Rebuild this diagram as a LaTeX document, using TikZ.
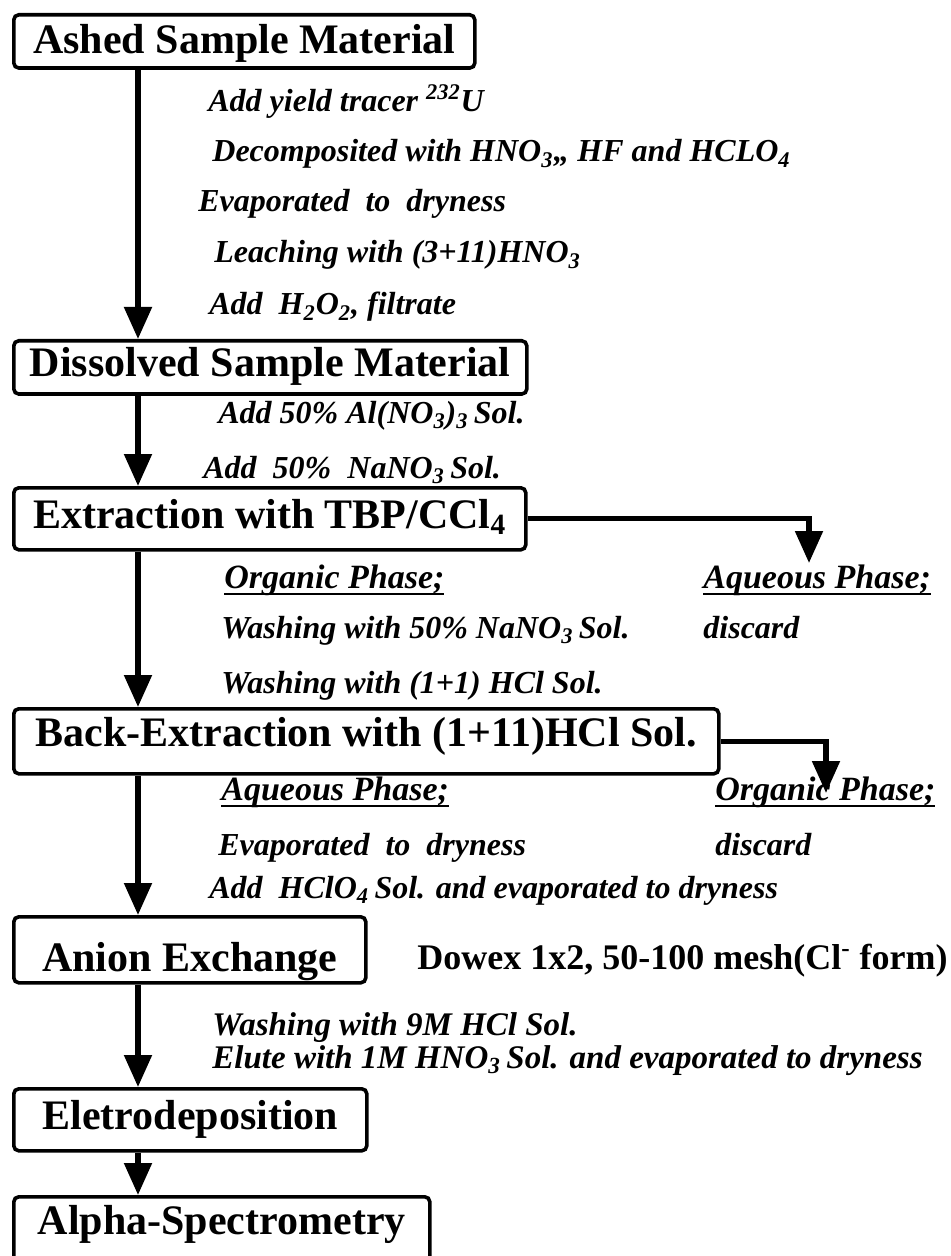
\documentclass[tikz,border=0pt]{standalone}
\usepackage{fontspec}
\setmainfont{Liberation Serif}
\usepackage{tikz}
\usetikzlibrary{arrows.meta}
\newsavebox{\phasebox}
\newcommand{\phaseline}[1]{\sbox{\phasebox}{#1}\rlap{\rule[-3.5pt]{\wd\phasebox}{1pt}}\usebox{\phasebox}}

\begin{document}
\begin{tikzpicture}[
	x=0.5pt, y=-0.5pt,
	box/.style={
		draw, line width=1.8pt, rounded corners=2.5pt, anchor=north west,
		font=\fontsize{21}{25}\selectfont\bfseries,
		text height=14.7pt, text depth=5.25pt
	},
	note/.style={
		anchor=base west, inner sep=0pt,
		font=\fontsize{16}{19}\selectfont\bfseries\itshape
	},
	phase/.style={
		note, font=\fontsize{17}{20}\selectfont\bfseries\itshape
	},
	resin/.style={
		anchor=base east, inner sep=0pt,
		font=\fontsize{18}{21}\selectfont\bfseries
	},
	flow/.style={
		line width=2.6pt, -{Triangle[width=13.5pt,length=16pt]}
	}
]
\useasboundingbox (0,0) rectangle (951,1256);
\clip (0,0) rectangle (951,1256);

% process steps
\node[box, minimum width=230.5pt, minimum height=26pt] (asm) at (12,13) {\raisebox{-1.5pt}{Ashed Sample Material}};
\node[box, minimum width=256.5pt, minimum height=24.5pt] (dsm) at (12,339) {Dissolved Sample Material};
\node[box, minimum width=256pt, minimum height=31pt] (ext) at (12,486) {Extraction with TBP/CCl\textsubscript{4}};
\node[box, minimum width=352.5pt, minimum height=32.5pt] (bext) at (12,707) {\raisebox{2pt}{Back-Extraction with (1+11)HCl Sol.}};
\node[box, minimum width=176pt, minimum height=33pt] (anex) at (12,915) {\raisebox{-6pt}{Anion Exchange}};
\node[box, minimum width=176.5pt, minimum height=31pt] (elec) at (12,1087) {Eletrodeposition};
\node[box, minimum width=208pt, minimum height=40pt, text depth=16.7pt] (alpha) at (12,1195) {Alpha-Spectrometry};

% treatment notes
\node[note] (tracer) at (208,112) {Add yield tracer \textsuperscript{232}U};
\node[note] (decomp) at (212,162) {Decomposited with HNO\textsubscript{3},, HF and HCLO\textsubscript{4}};
\node[note] (evap1) at (198,212) {Evaporated\ \ to\ \ dryness};
\node[note] (leach) at (214,263) {Leaching with (3+11)HNO\textsubscript{3}};
\node[note] (filt) at (209,315) {Add\ \ H\textsubscript{2}O\textsubscript{2}, filtrate};
\node[note] (alno) at (218,423) {Add 50\% Al(NO\textsubscript{3})\textsubscript{3}\,Sol.};
\node[note] (nano) at (203,478) {Add\ \ 50\%\ \ NaNO\textsubscript{3}\,Sol.};
\node[phase] (org1) at (224,588) {\phaseline{Organic Phase;}};
\node[phase] (aq1) at (703,588) {\phaseline{Aqueous Phase;}};
\node[note] (wash1) at (221,638) {Washing with 50\% NaNO\textsubscript{3}\,Sol.};
\node[note] (disc1) at (703,638) {discard};
\node[note] (wash2) at (221,693) {Washing with (1+1) HCl Sol.};
\node[phase] (aq2) at (221,800) {\phaseline{Aqueous Phase;}};
\node[phase] (org2) at (715,800) {\phaseline{Organic Phase;}};
\node[note] (evap2) at (218,855) {Evaporated\ \ to\ \ dryness};
\node[note] (disc2) at (715,855) {discard};
\node[note] (hclo) at (209,898) {Add\ \ HClO\textsubscript{4}\,Sol. and evaporated to dryness};
\node[resin] (dowex) at (948,969) {Dowex 1x2, 50-100 mesh(Cl\textsuperscript{-} form)};
\node[note, font=\fontsize{16.5}{19}\selectfont\bfseries\itshape] (wash3) at (212,1035) {Washing with 9M HCl Sol.};
\node[note, font=\fontsize{16.5}{19}\selectfont\bfseries\itshape] (elute) at (212,1068) {Elute with 1M HNO\textsubscript{3}\,Sol. and evaporated to dryness};

% connectors
\coordinate (spine) at (138,0);
\coordinate (aqtip) at (809,563);
\coordinate (orgtip) at (826,793);
\foreach \a/\b in {asm/dsm, dsm/ext, ext/bext, bext/anex, anex/elec, elec/alpha} {
	\draw[flow] (\a.south -| spine) -- (\b.north -| spine);
}
\draw[flow] (ext.east) -| (aqtip);
\draw[flow] (bext.east) -| (orgtip);
\end{tikzpicture}
\end{document}
